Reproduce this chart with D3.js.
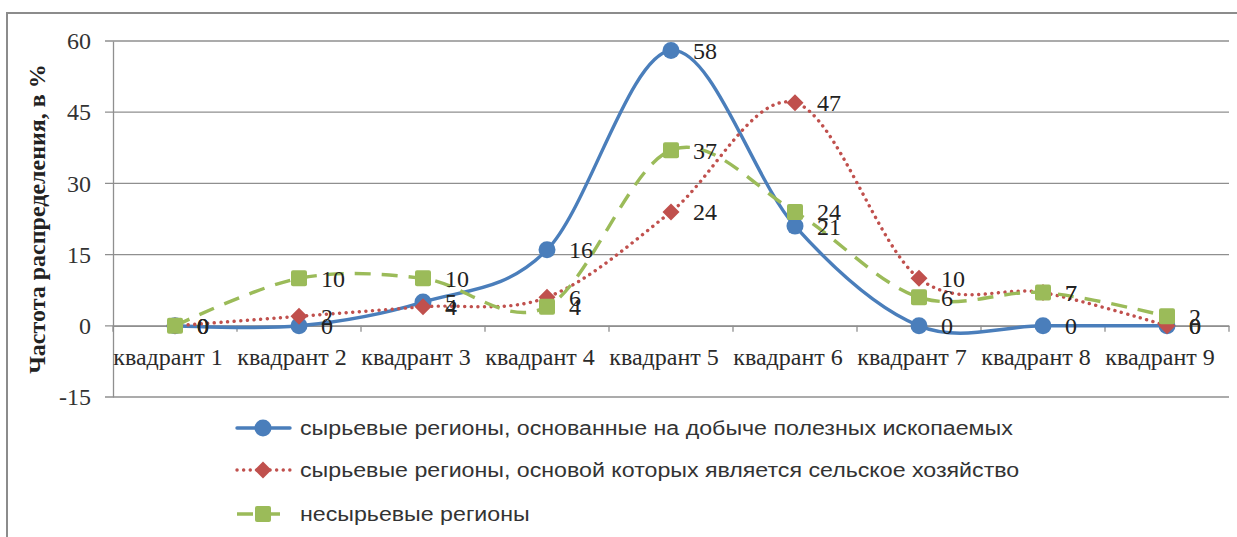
<!DOCTYPE html>
<html>
<head>
<meta charset="utf-8">
<script src="https://cdn.jsdelivr.net/npm/d3@7"></script>
<style>
  html, body { margin: 0; padding: 0; background: #fff; }
  svg { display: block; }
</style>
</head>
<body>
<svg id="chart" width="1237" height="537"></svg>
<script>
// Quadrant categories and distribution frequencies (%)
const categories = ["квадрант 1", "квадрант 2", "квадрант 3", "квадрант 4", "квадрант 5",
                    "квадрант 6", "квадрант 7", "квадрант 8", "квадрант 9"];
const miningValues = [0, 0, 5, 16, 58, 21, 0, 0, 0];
const agriValues   = [0, 2, 4, 6, 24, 47, 10, 7, 0];
const nonRawValues = [0, 10, 10, 4, 37, 24, 6, 7, 2];
const yTicks = [-15, 0, 15, 30, 45, 60];
const seriesNames = [
  "сырьевые регионы, основанные на добыче полезных ископаемых",
  "сырьевые регионы, основой которых является сельское хозяйство",
  "несырьевые регионы"
];
const yTitle = "Частота распределения, в %";

const series = [
  { name: seriesNames[0], values: miningValues, color: "#4a7ebb", marker: "circle",  dash: null,    cap: "round" },
  { name: seriesNames[1], values: agriValues,   color: "#c0504d", marker: "diamond", dash: "0.1,6.5", cap: "round" },
  { name: seriesNames[2], values: nonRawValues, color: "#9bbb59", marker: "square",  dash: "16,11", cap: "butt" }
];

const svg = d3.select("#chart");
const serif = "'Liberation Serif', 'Times New Roman', serif";
const sans = "'Liberation Sans', Arial, sans-serif";

// Outer chart frame
svg.append("rect")
  .attr("x", 7).attr("y", 13).attr("width", 1250).attr("height", 540)
  .attr("fill", "none").attr("stroke", "#8c8c8c").attr("stroke-width", 2);

const plot = { left: 113, right: 1229, top: 41, bottom: 397 };

const x = d3.scaleBand().domain(categories).range([plot.left, plot.right]).padding(0);
const y = d3.scaleLinear().domain([-15, 60]).range([plot.bottom, plot.top]);
const cx = c => x(c) + x.bandwidth() / 2;

// Horizontal gridlines
svg.append("g")
  .selectAll("line").data(yTicks).join("line")
  .attr("x1", plot.left - 8).attr("x2", plot.right)
  .attr("y1", d => y(d)).attr("y2", d => y(d))
  .attr("stroke", "#8f8f8f").attr("stroke-width", 1.3);

// Vertical axis
const yAxis = d3.axisLeft(y).tickValues(yTicks).tickSize(0).tickPadding(22)
  .tickFormat(d => String(d));
const gy = svg.append("g").attr("transform", `translate(${plot.left},0)`).call(yAxis);
gy.select(".domain").attr("stroke", "#8f8f8f").attr("stroke-width", 1.3);
gy.selectAll("text").attr("font-family", serif).attr("font-size", 24).attr("fill", "#333");

// Horizontal axis crossing at zero
const xAxis = d3.axisBottom(x).tickSize(0).tickFormat(() => "");
const gx = svg.append("g").attr("transform", `translate(0,${y(0)})`).call(xAxis);
gx.select(".domain").attr("stroke", "#8f8f8f").attr("stroke-width", 1.3);
gx.selectAll(".tick").remove();
// tick marks between categories
svg.append("g").selectAll("line")
  .data(d3.range(categories.length + 1))
  .join("line")
  .attr("x1", i => plot.left + i * x.bandwidth())
  .attr("x2", i => plot.left + i * x.bandwidth())
  .attr("y1", y(0)).attr("y2", y(0) + 6)
  .attr("stroke", "#8f8f8f").attr("stroke-width", 1.3);

svg.append("g").selectAll("text").data(categories).join("text")
  .attr("x", d => cx(d) - 7).attr("y", y(0) + 39)
  .attr("text-anchor", "middle")
  .attr("font-family", serif).attr("font-size", 24).attr("fill", "#2a2a2a")
  .text(d => d);

// Vertical axis title
svg.append("text")
  .attr("transform", `translate(45,${(plot.top + plot.bottom) / 2}) rotate(-90)`)
  .attr("text-anchor", "middle")
  .attr("font-family", serif).attr("font-size", 24).attr("font-weight", "bold").attr("fill", "#222")
  .text(yTitle);

// Markers
function drawMarker(g, type, color, px, py) {
  if (type === "circle") {
    g.append("circle").attr("cx", px).attr("cy", py).attr("r", 8.5).attr("fill", color);
  } else if (type === "diamond") {
    const s = 8.5;
    g.append("path").attr("d", `M${px},${py - s}L${px + s},${py}L${px},${py + s}L${px - s},${py}Z`).attr("fill", color);
  } else {
    g.append("rect").attr("x", px - 8).attr("y", py - 8).attr("width", 16).attr("height", 16)
      .attr("rx", 2).attr("fill", color);
  }
}

const line = d3.line()
  .x((d, i) => cx(categories[i]))
  .y(d => y(d))
  .curve(d3.curveCardinal.tension(0));

series.forEach(s => {
  const g = svg.append("g");
  g.append("path")
    .datum(s.values)
    .attr("d", line)
    .attr("fill", "none")
    .attr("stroke", s.color)
    .attr("stroke-width", 3.4)
    .attr("stroke-linecap", s.cap)
    .attr("stroke-dasharray", s.dash);
  s.values.forEach((v, i) => drawMarker(g, s.marker, s.color, cx(categories[i]), y(v)));
});

// Data value labels
series.forEach(s => {
  svg.append("g").selectAll("text").data(s.values).join("text")
    .attr("x", (d, i) => cx(categories[i]) + 22)
    .attr("y", d => y(d))
    .attr("dy", "0.35em")
    .attr("font-family", serif).attr("font-size", 24).attr("fill", "#222")
    .text(d => d);
});

// Legend
const legendRows = [428, 470, 514];
series.forEach((s, i) => {
  const g = svg.append("g");
  const ly = legendRows[i];
  g.append("line")
    .attr("x1", 237).attr("x2", 290).attr("y1", ly).attr("y2", ly)
    .attr("stroke", s.color).attr("stroke-width", 3.4)
    .attr("stroke-linecap", s.cap)
    .attr("stroke-dasharray", s.dash);
  drawMarker(g, s.marker, s.color, 263, ly);
  g.append("text")
    .attr("transform", `translate(300,${ly}) scale(1.16,1)`)
    .attr("dy", "0.35em")
    .attr("font-family", sans).attr("font-size", 20).attr("fill", "#333")
    .text(s.name);
});
</script>
</body>
</html>
